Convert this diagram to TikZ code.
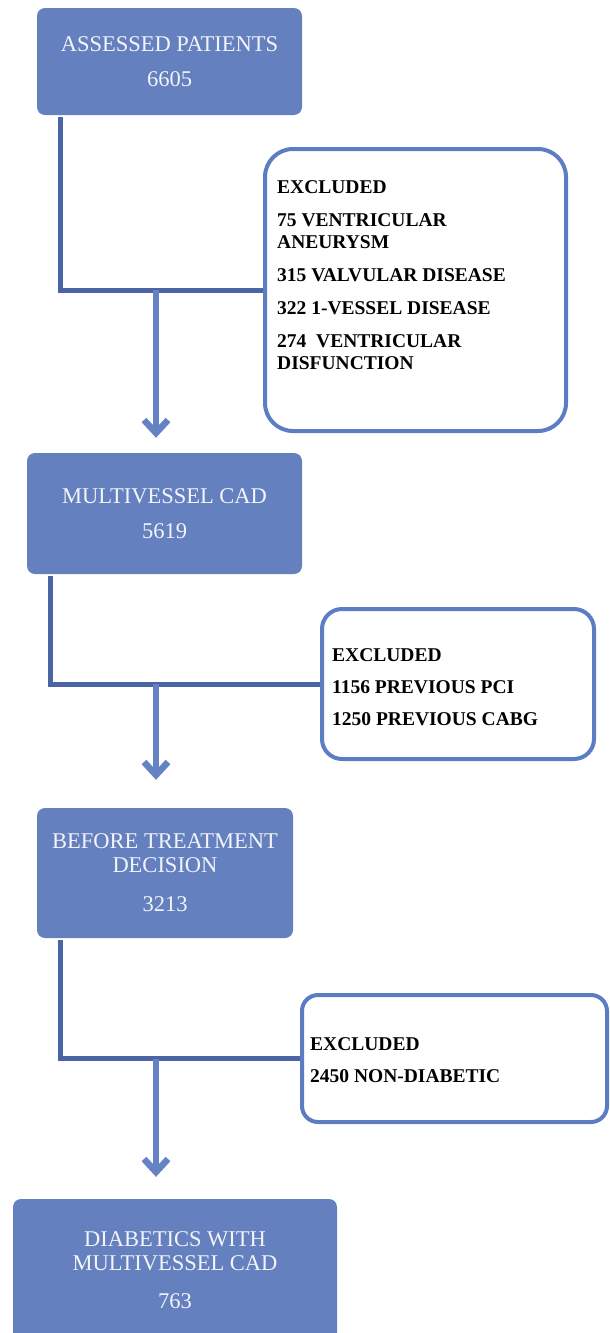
\documentclass[tikz,border=0pt]{standalone}
\usepackage{fontspec}
\setmainfont{Liberation Serif}
\usepackage{xcolor}
\usetikzlibrary{arrows.meta,positioning}
\definecolor{cajaazul}{RGB}{101,128,190}
\definecolor{textocaja}{RGB}{242,244,250}
\definecolor{bordeexcl}{RGB}{92,125,196}
\definecolor{codoazul}{RGB}{74,100,165}
\definecolor{flechaazul}{RGB}{100,130,196}
\tikzset{
  etapa/.style={fill=cajaazul, rounded corners=8pt, text=textocaja, align=center,
    inner sep=0pt, font=\fontsize{22.5}{24}\selectfont},
  excluidos/.style={draw=bordeexcl, line width=4pt, fill=white},
  textoexcl/.style={anchor=base west, align=left, inner sep=0pt,
    font=\bfseries\fontsize{19.5}{22}\selectfont},
  codo/.style={draw=codoazul, line width=5pt},
  flecha/.style={draw=flechaazul, line width=6pt,
    -{Straight Barb[length=13pt,width=24pt,line width=6.5pt]}}
}
\begin{document}
\begin{tikzpicture}[x=1pt,y=-1pt]
            \useasboundingbox (0,0) rectangle (610,1333);
            \coordinate (eje) at (156,0); % eje de las flechas
            \node[etapa, minimum width=265pt, minimum height=107pt] (assessed) at (169.5,61.5)
              {ASSESSED PATIENTS\\[11pt]6605};
            \node[etapa, minimum width=275pt, minimum height=121pt] (multivessel) at (164.5,513.5)
              {MULTIVESSEL CAD\\[11pt]5619};
            \node[etapa, minimum width=256pt, minimum height=130pt] (before) at (165,873)
              {BEFORE TREATMENT\\DECISION\\[15pt]3213};
            \node[etapa, minimum width=324pt, minimum height=142pt] (diabetics) at (175,1270)
              {DIABETICS WITH\\MULTIVESSEL CAD\\[14pt]763};
            \node[excluidos, rounded corners=28pt, minimum width=301pt, minimum height=282pt] (excl1) at (415.5,290) {};
            \node[excluidos, rounded corners=20pt, minimum width=272pt, minimum height=150pt] (excl2) at (458,684) {};
            \node[excluidos, rounded corners=16pt, minimum width=305pt, minimum height=127pt] (excl3) at (454.5,1058.5) {};
            % el ancla base es la de la ultima linea
            \node[textoexcl] (excl1txt) at ([xshift=14pt,yshift=-222pt]excl1.north west)
              {EXCLUDED\\[11pt]75 VENTRICULAR\\ANEURYSM\\[11pt]315 VALVULAR DISEASE\\[11pt]322 1-VESSEL DISEASE\\[11pt]274~~VENTRICULAR\\DISFUNCTION};
            \node[textoexcl] (excl2txt) at ([xshift=12pt,yshift=-118pt]excl2.north west)
              {EXCLUDED\\[10pt]1156 PREVIOUS PCI\\[10pt]1250 PREVIOUS CABG};
            \node[textoexcl] (excl3txt) at ([xshift=10pt,yshift=-89pt]excl3.north west)
              {EXCLUDED\\[10pt]2450 NON-DIABETIC};
            \foreach \a/\e/\b/\g in {assessed/excl1/multivessel/15, multivessel/excl2/before/28, before/excl3/diabetics/22}
            {
            \draw[codo] ([xshift=24pt,yshift=-2pt]\a.south west) |- (\e.west); % codo
            \draw[flecha] (\e.west -| eje) -- ([yshift=\g pt]\b.north -| eje); % flecha
            }
\end{tikzpicture}
\end{document}
